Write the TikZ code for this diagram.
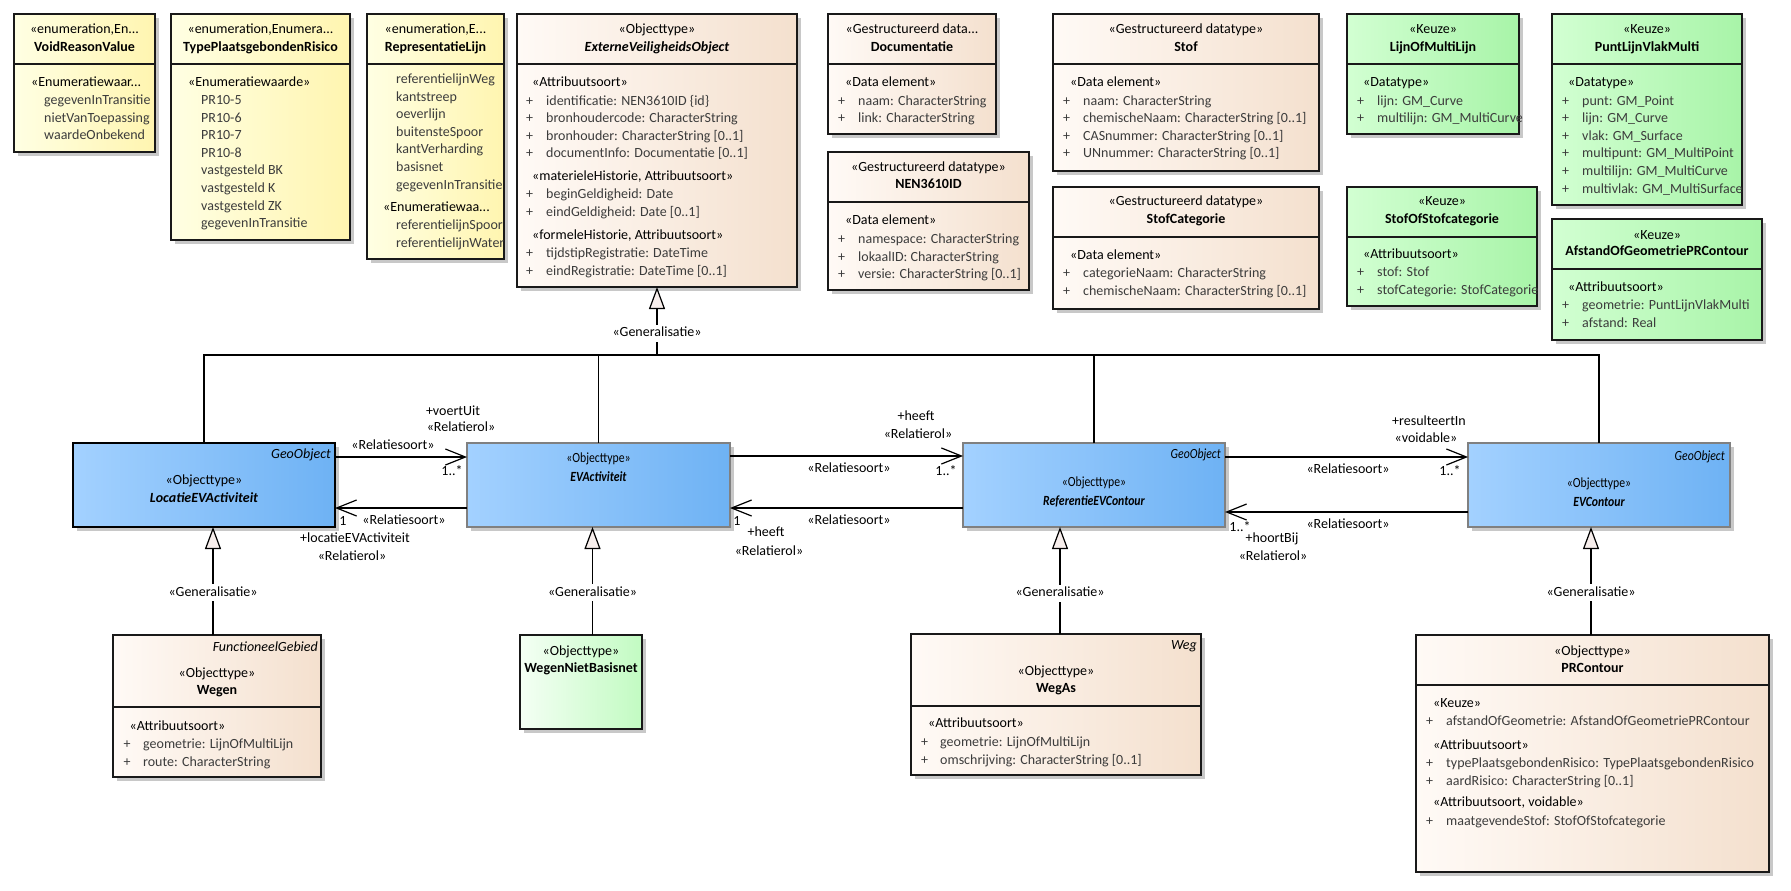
\documentclass[tikz,border=0pt]{standalone}
\usepackage{fontspec}
\setmainfont{Carlito}
\newfontfamily\narrowfont[FakeStretch=0.84]{Carlito}
\usetikzlibrary{arrows.meta}

\definecolor{enumL}{HTML}{FFFFE3}
\definecolor{enumR}{HTML}{FFF5B0}
\definecolor{objL}{HTML}{FFFAF6}
\definecolor{objR}{HTML}{F4E0CE}
\definecolor{keuzeL}{HTML}{D2FFD2}
\definecolor{keuzeR}{HTML}{A8F4A8}
\definecolor{wnbL}{HTML}{F4FFF4}
\definecolor{wnbR}{HTML}{C2FBC2}
\definecolor{geoL}{HTML}{A3D1FF}
\definecolor{geoR}{HTML}{6EB2F4}
\definecolor{shadowgray}{HTML}{C8C8C8}
\definecolor{attrtext}{HTML}{3C3C3C}
\definecolor{genfill}{HTML}{F7EEEC}

\newcommand{\umlfont}{\fontsize{14}{16}\selectfont}

\tikzset{
  umlclass/.style={draw=black!90,line width=1.3pt,inner sep=0pt,outer sep=0pt},
  enumbox/.style={left color=enumL,right color=enumR},
  objbox/.style={left color=objL,right color=objR},
  keuzebox/.style={left color=keuzeL,right color=keuzeR},
  wnbbox/.style={left color=wnbL,right color=wnbR},
  geobox/.style={left color=geoL,right color=geoR,draw=black!50},
  boxshadow/.style={fill=shadowgray},
  divider/.style={draw=black!90,line width=1.3pt},
  txt/.style={inner sep=0pt,text height=10pt,text depth=3pt,font=\umlfont},
  stereo/.style={txt},
  ttl/.style={txt,font=\umlfont\bfseries},
  absttl/.style={txt,font=\umlfont\bfseries\itshape},
  grp/.style={txt,anchor=west},
  attr/.style={txt,anchor=west,text=attrtext},
  tag/.style={txt,anchor=east,font=\umlfont\itshape},
  narrow/.style={font=\umlfont\narrowfont},
  narrowttl/.style={font=\umlfont\narrowfont\bfseries\itshape},
  narrowtag/.style={font=\umlfont\narrowfont\itshape},
  lbl/.style={txt},
  conn/.style={line width=1.2pt},
  assoc/.style={-{Straight Barb[length=20pt,width=16pt]}},
  gen/.style={-{Triangle[length=22pt,width=16pt,fill=genfill]}},
  genlbl/.style={txt,fill=white,inner sep=2pt}
}

% box: name, style, x1, y1, x2, y2, divider y
\newcommand{\umlbox}[7]{%
  \fill[boxshadow] (#3+4,#4+4) rectangle (#5+4,#6+4);
  \node[umlclass,#2,minimum width=#5-#3,minimum height=#6-#4,anchor=north west] (#1) at (#3,#4) {};
  \if\relax\detokenize{#7}\relax\else\draw[divider] (#3,#7) -- (#5,#7);\fi}
% plain items: prefix, x, first y, list
\newcommand{\enumitems}[4]{%
  \foreach \txt [count=\i] in {#4}
    \node[attr] (#1-i\i) at (#2,#3+17.6*\i-17.6) {\txt};}
% attributes with +: prefix, plus x, text x, first y, list
\newcommand{\attritems}[5]{%
  \foreach \txt [count=\i] in {#5}{
    \node[attr] (#1-p\i) at (#2,#4+17.6*\i-17.6) {+};
    \node[attr] (#1-a\i) at (#3,#4+17.6*\i-17.6) {\txt};}}

\begin{document}
\begin{tikzpicture}[x=1pt,y=-1pt,font=\umlfont]
\useasboundingbox (0,0) rectangle (1791,891);

% enumerations
\umlbox{vrv}{enumbox}{14}{14}{155}{152}{64}
\node[stereo] (vrv-s) at (vrv.north |- 0,30) {«enumeration,En...};
\node[ttl] (vrv-n) at (vrv.north |- 0,48) {VoidReasonValue};
\node[grp] (vrv-g) at (31,83) {«Enumeratiewaar...};
\enumitems{vrv}{44}{101}{gegevenInTransitie,nietVanToepassing,waardeOnbekend}

\umlbox{tpr}{enumbox}{171}{14}{350}{240}{64}
\node[stereo] (tpr-s) at (tpr.north |- 0,30) {«enumeration,Enumera...};
\node[ttl] (tpr-n) at (tpr.north |- 0,48) {TypePlaatsgebondenRisico};
\node[grp] (tpr-g) at (188,83) {«Enumeratiewaarde»};
\enumitems{tpr}{201}{101}{PR10-5,PR10-6,PR10-7,PR10-8,vastgesteld BK,vastgesteld K,vastgesteld ZK,gegevenInTransitie}

\umlbox{rl}{enumbox}{367}{14}{504}{259}{64}
\node[stereo] (rl-s) at (rl.north |- 0,30) {«enumeration,E...};
\node[ttl] (rl-n) at (rl.north |- 0,48) {RepresentatieLijn};
\enumitems{rl}{396}{80}{referentielijnWeg,kantstreep,oeverlijn,buitensteSpoor,kantVerharding,basisnet,gegevenInTransitie}
\node[grp] (rl-g) at (383,208) {«Enumeratiewaa...};
\enumitems{rl2}{396}{226}{referentielijnSpoor,referentielijnWater}

% objecttype en datatypes
\umlbox{evo}{objbox}{517}{14}{797}{287}{64}
\node[stereo] (evo-s) at (evo.north |- 0,30) {«Objecttype»};
\node[absttl] (evo-n) at (evo.north |- 0,48) {ExterneVeiligheidsObject};
\node[grp] (evo-g1) at (532,83) {«Attribuutsoort»};
\attritems{evo1}{526}{546}{101.5}{identificatie: NEN3610ID \{id\},bronhoudercode: CharacterString,bronhouder: CharacterString [0..1],documentInfo: Documentatie [0..1]}
\node[grp] (evo-g2) at (532,177) {«materieleHistorie, Attribuutsoort»};
\attritems{evo2}{526}{546}{195}{beginGeldigheid: Date,eindGeldigheid: Date [0..1]}
\node[grp] (evo-g3) at (532,236) {«formeleHistorie, Attribuutsoort»};
\attritems{evo3}{526}{546}{254}{tijdstipRegistratie: DateTime,eindRegistratie: DateTime [0..1]}

\umlbox{doc}{objbox}{828}{14}{996}{134}{64}
\node[stereo] (doc-s) at (doc.north |- 0,30) {«Gestructureerd data...};
\node[ttl] (doc-n) at (doc.north |- 0,48) {Documentatie};
\node[grp] (doc-g) at (845,83) {«Data element»};
\attritems{doc}{838}{858}{101.5}{naam: CharacterString,link: CharacterString}

\umlbox{nen}{objbox}{828}{152}{1029}{290}{202}
\node[stereo] (nen-s) at (nen.north |- 0,168) {«Gestructureerd datatype»};
\node[ttl] (nen-n) at (nen.north |- 0,185) {NEN3610ID};
\node[grp] (nen-g) at (845,221) {«Data element»};
\attritems{nen}{838}{858}{240}{namespace: CharacterString,lokaalID: CharacterString,versie: CharacterString [0..1]}

\umlbox{stof}{objbox}{1053}{14}{1319}{171}{64}
\node[stereo] (stof-s) at (stof.north |- 0,30) {«Gestructureerd datatype»};
\node[ttl] (stof-n) at (stof.north |- 0,48) {Stof};
\node[grp] (stof-g) at (1070,83) {«Data element»};
\attritems{stof}{1063}{1083}{101.5}{naam: CharacterString,chemischeNaam: CharacterString [0..1],CASnummer: CharacterString [0..1],UNnummer: CharacterString [0..1]}

\umlbox{scat}{objbox}{1053}{187}{1319}{309}{237}
\node[stereo] (scat-s) at (scat.north |- 0,202) {«Gestructureerd datatype»};
\node[ttl] (scat-n) at (scat.north |- 0,220) {StofCategorie};
\node[grp] (scat-g) at (1070,256) {«Data element»};
\attritems{scat}{1063}{1083}{274}{categorieNaam: CharacterString,chemischeNaam: CharacterString [0..1]}

% keuze
\umlbox{lml}{keuzebox}{1347}{14}{1519}{134}{64}
\node[stereo] (lml-s) at (lml.north |- 0,30) {«Keuze»};
\node[ttl] (lml-n) at (lml.north |- 0,48) {LijnOfMultiLijn};
\node[grp] (lml-g) at (1363,83) {«Datatype»};
\attritems{lml}{1357}{1377}{101.5}{lijn: GM\_Curve,multilijn: GM\_MultiCurve}

\umlbox{plvm}{keuzebox}{1552}{14}{1742}{205}{64}
\node[stereo] (plvm-s) at (plvm.north |- 0,30) {«Keuze»};
\node[ttl] (plvm-n) at (plvm.north |- 0,48) {PuntLijnVlakMulti};
\node[grp] (plvm-g) at (1568,83) {«Datatype»};
\attritems{plvm}{1562}{1582}{101.5}{punt: GM\_Point,lijn: GM\_Curve,vlak: GM\_Surface,multipunt: GM\_MultiPoint,multilijn: GM\_MultiCurve,multivlak: GM\_MultiSurface}

\umlbox{sos}{keuzebox}{1347}{187}{1537}{306}{237}
\node[stereo] (sos-s) at (sos.north |- 0,202) {«Keuze»};
\node[ttl] (sos-n) at (sos.north |- 0,220) {StofOfStofcategorie};
\node[grp] (sos-g) at (1363,255) {«Attribuutsoort»};
\attritems{sos}{1357}{1377}{273}{stof: Stof,stofCategorie: StofCategorie}

\umlbox{aog}{keuzebox}{1552}{219}{1762}{340}{269}
\node[stereo] (aog-s) at (aog.north |- 0,236) {«Keuze»};
\node[ttl] (aog-n) at (aog.north |- 0,252) {AfstandOfGeometriePRContour};
\node[grp] (aog-g) at (1568,288) {«Attribuutsoort»};
\attritems{aog}{1562}{1582}{306}{geometrie: PuntLijnVlakMulti,afstand: Real}

% geo objecttypes
\umlbox{loc}{geobox,draw=black}{73}{443}{335}{527}{}
\node[tag] (loc-t) at (331,455) {GeoObject};
\node[stereo] (loc-s) at (loc.north |- 0,481) {«Objecttype»};
\node[absttl] (loc-n) at (loc.north |- 0,499) {LocatieEVActiviteit};

\umlbox{evact}{geobox}{467}{443}{730}{527}{}
\node[stereo,narrow] (evact-s) at (evact.north |- 0,459) {«Objecttype»};
\node[absttl,narrowttl] (evact-n) at (evact.north |- 0,478) {EVActiviteit};

\umlbox{refev}{geobox}{963}{443}{1225}{527}{}
\node[tag,narrowtag] (refev-t) at (1221,455) {GeoObject};
\node[stereo,narrow] (refev-s) at (refev.north |- 0,483) {«Objecttype»};
\node[absttl,narrowttl] (refev-n) at (refev.north |- 0,502) {ReferentieEVContour};

\umlbox{evc}{geobox}{1468}{443}{1730}{527}{}
\node[tag,narrowtag] (evc-t) at (1725,457) {GeoObject};
\node[stereo,narrow] (evc-s) at (evc.north |- 0,484) {«Objecttype»};
\node[absttl,narrowttl] (evc-n) at (evc.north |- 0,503) {EVContour};

% subtypes
\umlbox{wegen}{objbox}{113}{635}{321}{777}{707}
\node[tag] (wegen-t) at (318,648) {FunctioneelGebied};
\node[stereo] (wegen-s) at (wegen.north |- 0,674) {«Objecttype»};
\node[ttl] (wegen-n) at (wegen.north |- 0,691) {Wegen};
\node[grp] (wegen-g) at (129.5,727) {«Attribuutsoort»};
\attritems{wegen}{123.5}{143}{745}{geometrie: LijnOfMultiLijn,route: CharacterString}

\umlbox{wnb}{wnbbox}{520}{635}{642}{729}{}
\node[stereo] (wnb-s) at (wnb.north |- 0,652) {«Objecttype»};
\node[ttl] (wnb-n) at (wnb.north |- 0,669) {WegenNietBasisnet};

\umlbox{wegas}{objbox}{911}{634}{1201}{775}{706}
\node[tag] (wegas-t) at (1197,646) {Weg};
\node[stereo] (wegas-s) at (wegas.north |- 0,672) {«Objecttype»};
\node[ttl] (wegas-n) at (wegas.north |- 0,689) {WegAs};
\node[grp] (wegas-g) at (928,724) {«Attribuutsoort»};
\attritems{wegas}{921}{940}{743}{geometrie: LijnOfMultiLijn,omschrijving: CharacterString [0..1]}

\umlbox{prc}{objbox}{1416}{635}{1769}{872}{685}
\node[stereo] (prc-s) at (prc.north |- 0,652) {«Objecttype»};
\node[ttl] (prc-n) at (prc.north |- 0,669) {PRContour};
\node[grp] (prc-g1) at (1433,704) {«Keuze»};
\attritems{prc1}{1426}{1446}{722}{afstandOfGeometrie: AfstandOfGeometriePRContour}
\node[grp] (prc-g2) at (1433,746) {«Attribuutsoort»};
\attritems{prc2}{1426}{1446}{764}{typePlaatsgebondenRisico: TypePlaatsgebondenRisico,aardRisico: CharacterString [0..1]}
\node[grp] (prc-g3) at (1433,803) {«Attribuutsoort, voidable»};
\attritems{prc3}{1426}{1446}{822}{maatgevendeStof: StofOfStofcategorie}

% generalisaties naar ExterneVeiligheidsObject
\coordinate (gbus) at (657,355);
\draw[conn] (loc.north) |- (evc.north |- gbus) -- (evc.north);
\draw[conn] (evact.north) -- (evact.north |- gbus);
\draw[conn] (refev.north) -- (refev.north |- gbus);
\draw[conn,gen] (evo.south |- gbus) -- node[genlbl,pos=0.32] (g0) {«Generalisatie»} (evo.south);

% generalisaties van subtypes
\coordinate (g1) at ([xshift=9pt]loc.south);
\coordinate (g2) at ([xshift=-6pt]evact.south);
\coordinate (g3) at ([xshift=-34pt]refev.south);
\coordinate (g4) at ([xshift=-8pt]evc.south);
\draw[conn,gen] (g1 |- wegen.north) -- node[genlbl,pos=0.39] (g1l) {«Generalisatie»} (g1);
\draw[conn,gen] (g2 |- wnb.north) -- node[genlbl,pos=0.39] (g2l) {«Generalisatie»} (g2);
\draw[conn,gen] (g3 |- wegas.north) -- node[genlbl,pos=0.38] (g3l) {«Generalisatie»} (g3);
\draw[conn,gen] (g4 |- prc.north) -- node[genlbl,pos=0.39] (g4l) {«Generalisatie»} (g4);

% relaties
\draw[conn,assoc] (loc.east |- 0,457) -- (evact.west |- 0,457);
\node[lbl] (r1a) at (393,446) {«Relatiesoort»};
\node[lbl] (r1b) at (453,412) {+voertUit};
\node[lbl] (r1c) at (461,428) {«Relatierol»};
\node[lbl] (r1d) at (452,472) {1..*};

\draw[conn,assoc] (evact.west |- 0,508) -- (loc.east |- 0,508);
\node[lbl] (r2a) at (343,522) {1};
\node[lbl] (r2b) at (404,521) {«Relatiesoort»};
\node[lbl] (r2c) at (355,539) {+locatieEVActiviteit};
\node[lbl] (r2d) at (352,557) {«Relatierol»};

\draw[conn,assoc] (evact.east |- 0,456) -- (refev.west |- 0,456);
\node[lbl] (r3a) at (849,469) {«Relatiesoort»};
\node[lbl] (r3b) at (916,417) {+heeft};
\node[lbl] (r3c) at (918,435) {«Relatierol»};
\node[lbl] (r3d) at (946,472) {1..*};

\draw[conn,assoc] (refev.west |- 0,508) -- (evact.east |- 0,508);
\node[lbl] (r4a) at (737,522) {1};
\node[lbl] (r4b) at (849,521) {«Relatiesoort»};
\node[lbl] (r4c) at (766,533) {+heeft};
\node[lbl] (r4d) at (769,552) {«Relatierol»};

\draw[conn,assoc] (refev.east |- 0,457) -- (evc.west |- 0,457);
\node[lbl] (r5a) at (1348,470) {«Relatiesoort»};
\node[lbl] (r5b) at (1429,422) {+resulteertIn};
\node[lbl] (r5c) at (1426,439) {«voidable»};
\node[lbl] (r5d) at (1450,472) {1..*};

\draw[conn,assoc] (evc.west |- 0,512) -- (refev.east |- 0,512);
\node[lbl] (r6a) at (1240,528) {1..*};
\node[lbl] (r6b) at (1348,525) {«Relatiesoort»};
\node[lbl] (r6c) at (1272,539) {+hoortBij};
\node[lbl] (r6d) at (1273,557) {«Relatierol»};
\end{tikzpicture}
\end{document}
